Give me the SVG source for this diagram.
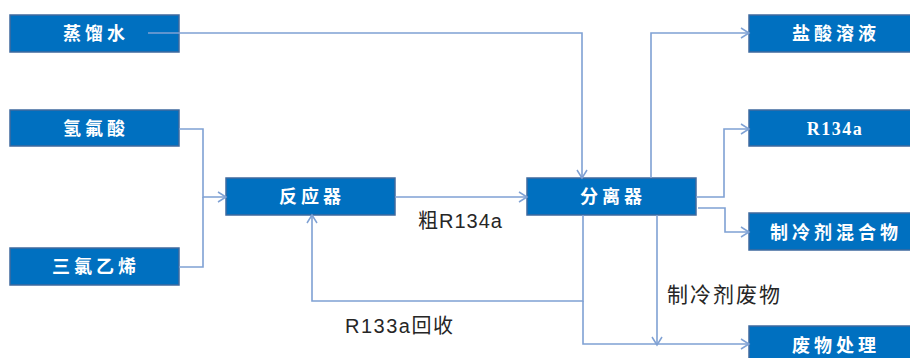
<svg xmlns="http://www.w3.org/2000/svg" width="910" height="358" viewBox="0 0 910 358">
<style>
.box{fill:#0070C0;stroke:#3F6A9E;stroke-width:1.5}
.bt{fill:#fff;font-family:"Liberation Serif","Noto Sans CJK SC",serif;font-weight:bold;font-size:18px;letter-spacing:4px;text-anchor:middle}
.ln{fill:none;stroke:#7FA1D4;stroke-width:1.6}
.lb{fill:#262626;font-family:"Liberation Sans","Noto Sans CJK SC",sans-serif;font-size:20px}
</style>
<defs>
<marker id="ar" markerUnits="userSpaceOnUse" markerWidth="14" markerHeight="14" refX="10" refY="6" orient="auto">
<path d="M2,1 L10,6 L2,11" fill="none" stroke="#7FA1D4" stroke-width="1.5"/>
</marker>
</defs>
<rect width="910" height="358" fill="#fff"/>
<g id="n1"><rect class="box" x="10" y="15" width="169" height="37"/><text class="bt" x="96" y="40">蒸馏水</text></g>
<g id="n2"><rect class="box" x="10" y="110" width="169" height="36"/><text class="bt" x="96" y="135">氢氟酸</text></g>
<g id="n3"><rect class="box" x="10" y="248" width="169" height="37"/><text class="bt" x="96" y="273">三氯乙烯</text></g>
<g id="n4"><rect class="box" x="226" y="178" width="169" height="37"/><text class="bt" x="312" y="203">反应器</text></g>
<g id="n5"><rect class="box" x="527" y="178" width="169" height="37"/><text class="bt" x="613" y="203">分离器</text></g>
<g id="n6"><rect class="box" x="749" y="15" width="169" height="37"/><text class="bt" x="836" y="40">盐酸溶液</text></g>
<g id="n7"><rect class="box" x="749" y="110" width="169" height="36"/><text class="bt" x="835" y="135" style="letter-spacing:1.5px">R134a</text></g>
<g id="n8"><rect class="box" x="749" y="213" width="169" height="37"/><text class="bt" x="836" y="239">制冷剂混合物</text></g>
<g id="n9"><rect class="box" x="749" y="326" width="169" height="37"/><text class="bt" x="836" y="352">废物处理</text></g>
<g id="connectors">
<path class="ln" d="M148,33 H582 V178" marker-end="url(#ar)"/>
<path class="ln" d="M179,129 H203 V197 H226" marker-end="url(#ar)"/>
<path class="ln" d="M179,267 H203 V197"/>
<path class="ln" d="M395,197 H527" marker-end="url(#ar)"/>
<path class="ln" d="M583,215 V301 H312 V215" marker-end="url(#ar)"/>
<path class="ln" d="M583,301 V344 H749" marker-end="url(#ar)"/>
<path class="ln" d="M657,215 V345" marker-end="url(#ar)"/>
<path class="ln" d="M651,178 V33 H749" marker-end="url(#ar)"/>
<path class="ln" d="M696,197 H724 V129 H749" marker-end="url(#ar)"/>
<path class="ln" d="M698,208 H725 V232 H749" marker-end="url(#ar)"/>
</g>
<text class="lb" x="418" y="228" style="letter-spacing:1px">粗R134a</text>
<text class="lb" x="345" y="333" style="letter-spacing:1.5px">R133a回收</text>
<text class="lb" x="667" y="302" style="font-size:21px;letter-spacing:2px">制冷剂废物</text>
</svg>
